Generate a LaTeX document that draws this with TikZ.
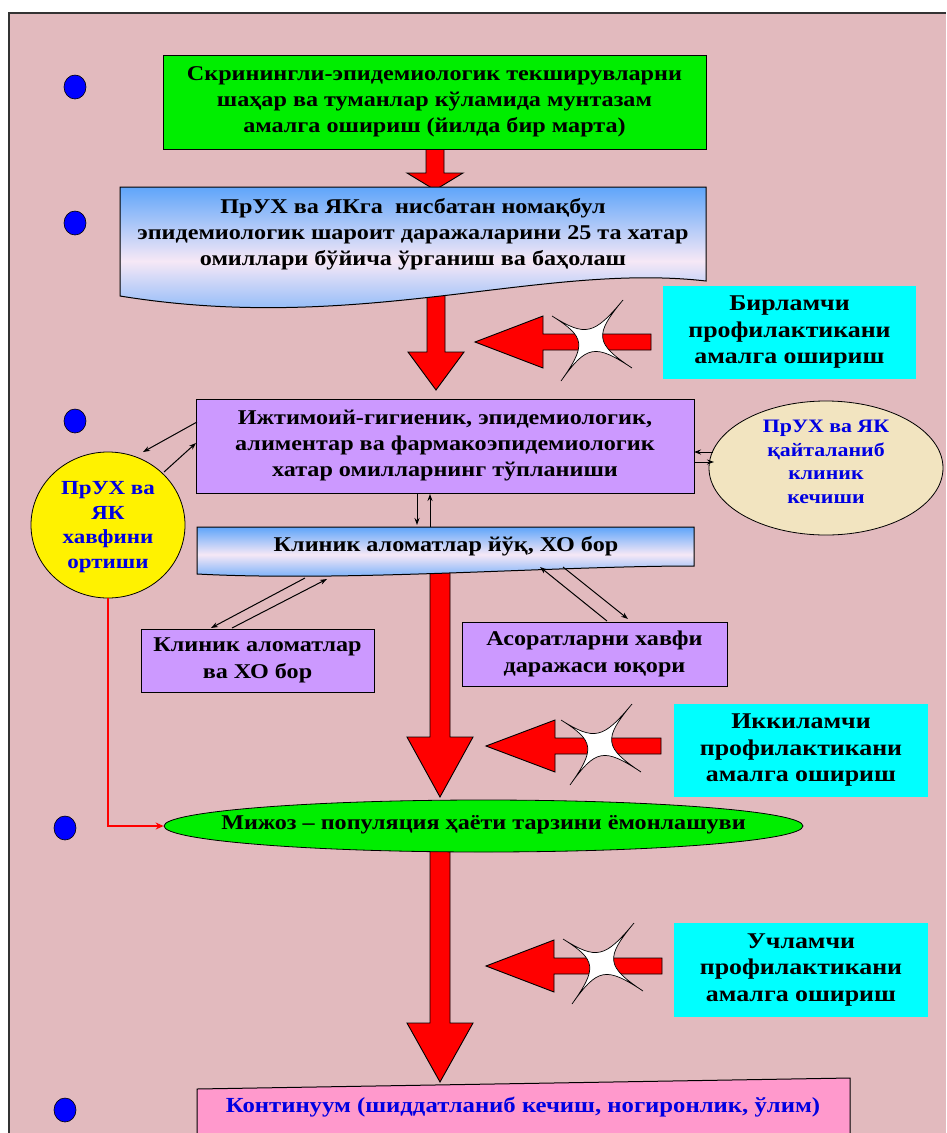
\documentclass[tikz,border=0pt]{standalone}
\usepackage{fontspec}
\setmainfont{Liberation Serif}[FakeStretch=1.15]
\usetikzlibrary{shapes.geometric,arrows.meta}
\definecolor{bgpink}{RGB}{226,186,190}
\definecolor{boxgreen}{RGB}{0,238,0}
\definecolor{boxcyan}{RGB}{0,255,255}
\definecolor{boxviolet}{RGB}{204,153,255}
\definecolor{boxbeige}{RGB}{242,228,192}
\definecolor{boxpink}{RGB}{255,153,204}
\definecolor{gradblue}{RGB}{95,165,250}
\definecolor{gradwhite}{RGB}{246,232,246}
\definecolor{txtblue}{RGB}{0,0,225}
\newcommand{\RDarrow}[6]{\draw[redarr] (#1-#5,#2) -- (#1+#5,#2) -- (#1+#5,#3) -- (#1+#6,#3) -- (#1,#4) -- (#1-#6,#3) -- (#1-#5,#3) -- cycle;}
\newcommand{\RLarrow}[6]{\draw[redarr] (#2,#1) -- (#3,#1-#6) -- (#3,#1-#5) -- (#4,#1-#5) -- (#4,#1+#5) -- (#3,#1+#5) -- (#3,#1+#6) -- cycle;}
\newcommand{\Xstar}[2]{\begin{scope}[shift={(#1,#2)}]
\draw[fill=white,draw=black,line width=0.7pt,line join=miter]
  (33,-40) .. controls (4,-5) and (5,3.4) ..
  (42,28) .. controls (5,3.4) and (-3.5,5) ..
  (-29,41) .. controls (-3.5,5) and (-4.5,-3) ..
  (-38,-24) .. controls (-4.5,-3) and (4,-5) ..
  (33,-40) -- cycle;
\end{scope}}
\begin{document}
\begin{tikzpicture}[x=1pt,y=-1pt,
  redarr/.style={fill=red,draw=black,line width=0.9pt,line join=miter},
  txt/.style={font=\fontsize{21}{26}\selectfont\bfseries,align=center},
  ctxt/.style={font=\fontsize{22.5}{26.5}\selectfont\bfseries,align=center},
  etxt/.style={font=\fontsize{19}{23.5}\selectfont\bfseries,align=center,text=txtblue},
  boxr/.style={draw=black,line width=1pt,rectangle,inner sep=0pt},
  thinarr/.style={-{Stealth[length=7pt,width=5pt]},line width=1pt,black},
  dot/.style={fill=blue,draw=black,line width=0.6pt}]
\useasboundingbox (0,0) rectangle (946,1133);
\fill[white] (0,0) rectangle (946,1133);
\fill[bgpink] (9,13) rectangle (946,1133);
\draw[line width=1.6pt,black!80] (9,1133) -- (9,13) -- (946,13);

% vertical red arrows (behind boxes)
\RDarrow{435}{147}{173}{190}{9}{28}
\RDarrow{436}{292}{352}{390}{9}{28}
\RDarrow{440}{570}{737}{797}{10}{33}
\RDarrow{440}{848}{1023}{1082}{10}{33}

% green box
\node[boxr,fill=boxgreen,minimum width=543pt,minimum height=94pt,txt] (g1) at (434.5,102)
  {Скринингли-эпидемиологик текширувларни\\шаҳар ва туманлар кўламида мунтазам\\амалга ошириш (йилда бир марта)};

% blue document box 1
\path[draw=black,line width=1pt,top color=gradblue,bottom color=gradblue,middle color=gradwhite]
  (120,187) -- (706,187) -- (706,281) .. controls (540,262) and (360,335) .. (120,296) -- cycle;
\node[txt] (b1) at (413,234) {ПрУХ ва ЯКга\ \ нисбатан номақбул\\эпидемиологик шароит даражаларини 25 та хатар\\омиллари бўйича ўрганиш ва баҳолаш};

% cyan boxes
\node[rectangle,fill=boxcyan,minimum width=253pt,minimum height=93pt,ctxt] (c1) at (789.5,332.5)
  {Бирламчи\\профилактикани\\амалга ошириш};
\node[rectangle,fill=boxcyan,minimum width=254pt,minimum height=93pt,ctxt] (c2) at (801,750.5)
  {Иккиламчи\\профилактикани\\амалга ошириш};
\node[rectangle,fill=boxcyan,minimum width=254pt,minimum height=94pt,ctxt] (c3) at (801,970)
  {Учламчи\\профилактикани\\амалга ошириш};

% purple box
\node[boxr,fill=boxviolet,minimum width=498pt,minimum height=94pt,txt] (p1) at (445,446)
  {Ижтимоий-гигиеник, эпидемиологик,\\алиментар ва фармакоэпидемиологик\\хатар омилларнинг тўпланиши};

% right ellipse
\node[ellipse,draw=black,line width=0.8pt,fill=boxbeige,minimum width=234pt,minimum height=134pt,inner sep=0pt] (e1) at (826,468) {};
\node[etxt] (e1t) at (826,462) {ПрУХ ва ЯК\\қайталаниб\\клиник\\кечиши};

% yellow circle
\node[ellipse,draw=black,line width=0.8pt,fill=yellow,minimum width=154pt,minimum height=146pt,inner sep=0pt] (y1) at (108,525) {};
\node[etxt,font=\fontsize{20}{24.5}\selectfont\bfseries] (y1t) at (108,527) {ПрУХ ва\\ЯК\\хавфини\\ортиши};

% blue document box 2
\path[draw=black,line width=1pt,top color=gradblue,bottom color=gradblue,middle color=gradwhite]
  (197,527) -- (694,527) -- (694,566) .. controls (550,566) and (350,582) .. (197,574) -- cycle;
\node[txt] (b2) at (446,546) {Клиник аломатлар йўқ, ХО бор};

% small violet boxes
\node[boxr,fill=boxviolet,minimum width=233pt,minimum height=63pt,txt,font=\fontsize{21}{27}\selectfont\bfseries] (k1) at (257.5,660.5)
  {Клиник аломатлар\\ва ХО бор};
\node[boxr,fill=boxviolet,minimum width=265pt,minimum height=64pt,txt,font=\fontsize{21}{27}\selectfont\bfseries] (k2) at (594.5,654)
  {Асоратларни хавфи\\даражаси юқори};

% green ellipse
\node[ellipse,draw=black,line width=0.8pt,fill=boxgreen,minimum width=639pt,minimum height=52pt,inner sep=0pt] (m1) at (483.5,826) {};
\node[txt] (m1t) at (483.5,825) {Мижоз – популяция ҳаёти тарзини ёмонлашуви};

% pink continuum box
\path[draw=black,line width=1pt,fill=boxpink] (197,1089) -- (850,1078) -- (850,1140) -- (197,1140) -- cycle;
\node[txt,text=txtblue,font=\fontsize{21.5}{26}\selectfont\bfseries] (t1) at (523,1107) {Континуум (шиддатланиб кечиш, ногиронлик, ўлим)};

% horizontal red arrows with stars
\RLarrow{342}{475}{543}{651}{8}{26}
\Xstar{590}{340}
\RLarrow{746}{486}{555}{661}{8}{26}
\Xstar{599}{744}
\RLarrow{966}{486}{554}{662}{8}{26}
\Xstar{601}{963}

% red connector from yellow circle to green ellipse
\draw[red,line width=1.2pt,-{Stealth[length=8pt,width=7pt]}] (y1.south) |- (m1.west);

% thin arrows
\coordinate (pa1) at (197,422); \coordinate (ya1) at (143,452);
\coordinate (ya2) at (164,472); \coordinate (pa2) at (196,443);
\draw[thinarr] (pa1) -- (ya1);
\draw[thinarr] (ya2) -- (pa2);
\coordinate (ea1) at (713,452); \coordinate (pe1) at (694,452);
\coordinate (pe2) at (694,462); \coordinate (ea2) at (714,462);
\draw[thinarr] (ea1) -- (pe1);
\draw[thinarr] (pe2) -- (ea2);
\coordinate (pv1) at (417,493); \coordinate (bv1) at (417,525);
\coordinate (bv2) at (430,527); \coordinate (pv2) at (430,494);
\draw[thinarr] (pv1) -- (bv1);
\draw[thinarr] (bv2) -- (pv2);
\coordinate (bk1) at (305,578); \coordinate (kb1) at (211,628);
\coordinate (kb2) at (232,628); \coordinate (bk2) at (327,579);
\draw[thinarr] (bk1) -- (kb1);
\draw[thinarr] (kb2) -- (bk2);
\coordinate (ba1) at (563,567); \coordinate (ab1) at (628,619);
\coordinate (ab2) at (607,621); \coordinate (ba2) at (540,567);
\draw[thinarr] (ba1) -- (ab1);
\draw[thinarr] (ab2) -- (ba2);

% blue dots
\path[dot] (75,87) ellipse [x radius=11pt,y radius=12pt];
\path[dot] (75,223) ellipse [x radius=11pt,y radius=12pt];
\path[dot] (75,421) ellipse [x radius=11pt,y radius=12pt];
\path[dot] (65,828) ellipse [x radius=11pt,y radius=12pt];
\path[dot] (65,1110) ellipse [x radius=11pt,y radius=12pt];
\end{tikzpicture}
\end{document}
